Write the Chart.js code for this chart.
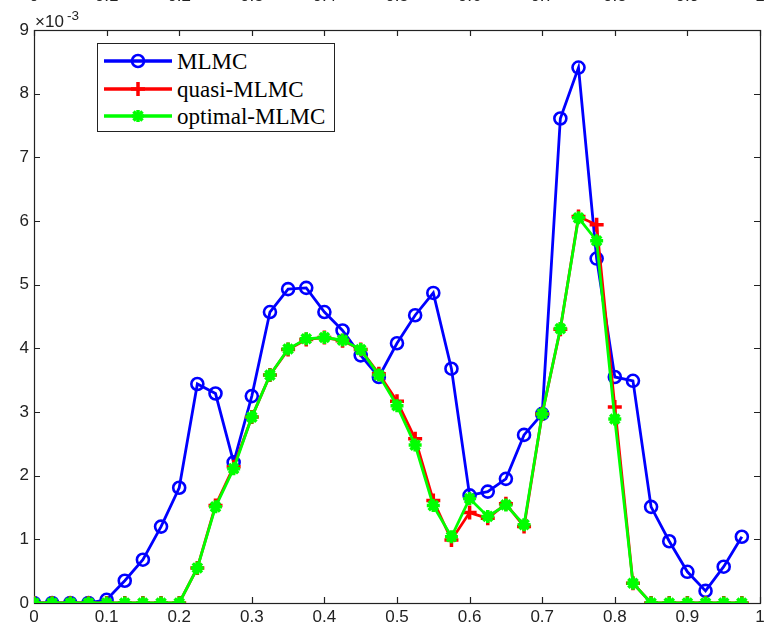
<!DOCTYPE html>
<html>
<head>
<meta charset="utf-8">
<script src="https://cdn.jsdelivr.net/npm/chart.js@4"></script>
<style>
  html, body { margin: 0; padding: 0; background: #fff; }
  #wrap { position: relative; width: 781px; height: 634px; overflow: hidden; background: #fff; }
  #cbox { position: absolute; left: 0; top: -20px; width: 781px; height: 654px; }
  .expo { position: absolute; font-family: "Liberation Sans", Arial, sans-serif; color: #222; white-space: nowrap; }
  #expoBase { left: 35px; top: 13px; font-size: 17px; line-height: 17px; }
  #expoSup { left: 67px; top: 9px; font-size: 13.5px; line-height: 13.5px; }
  #legend { position: absolute; left: 97px; top: 43px; width: 236px; height: 87px; border: 1px solid #222; background: #fff; }
  #legend .row { position: absolute; left: 0; height: 28px; width: 236px; }
  #legend svg { position: absolute; left: 0; top: 0; }
  #legend span { position: absolute; left: 79px; top: 1px; font-family: "Liberation Serif", "Times New Roman", serif; font-size: 23px; color: #000; line-height: 28px; }
</style>
</head>
<body>
<div id="wrap">
  <div id="cbox"><canvas id="c"></canvas></div>
  <div class="expo" id="expoBase">×10</div>
  <div class="expo" id="expoSup">-3</div>
  <div id="legend"></div>
</div>
<script>
// x positions of samples
const xValues = [0, 0.025, 0.05, 0.075, 0.1, 0.125, 0.15, 0.175, 0.2, 0.225,
  0.25, 0.275, 0.3, 0.325, 0.35, 0.375, 0.4, 0.425, 0.45, 0.475,
  0.5, 0.525, 0.55, 0.575, 0.6, 0.625, 0.65, 0.675, 0.7, 0.725,
  0.75, 0.775, 0.8, 0.825, 0.85, 0.875, 0.9, 0.925, 0.95, 0.975];

// series values, in units of 1e-3
const mlmc = [0, 0, 0, 0, 0.05, 0.35, 0.68, 1.20, 1.81, 3.44,
  3.29, 2.21, 3.25, 4.57, 4.93, 4.95, 4.57, 4.28, 3.89, 3.55,
  4.08, 4.52, 4.87, 3.68, 1.69, 1.75, 1.95, 2.64, 2.97, 7.61,
  8.41, 5.41, 3.55, 3.49, 1.51, 0.97, 0.49, 0.19, 0.57, 1.04];

const quasiMlmc = [0, 0, 0, 0, 0, 0, 0, 0, 0, 0.55,
  1.53, 2.14, 2.92, 3.58, 3.98, 4.14, 4.17, 4.12, 3.98, 3.60,
  3.17, 2.58, 1.61, 0.99, 1.42, 1.33, 1.56, 1.20, 2.97, 4.30,
  6.07, 5.94, 3.08, 0.31, 0, 0, 0, 0, 0, 0];

const optimalMlmc = [0, 0, 0, 0, 0, 0, 0, 0, 0, 0.55,
  1.51, 2.11, 2.92, 3.58, 3.99, 4.15, 4.17, 4.13, 3.98, 3.58,
  3.10, 2.48, 1.53, 1.04, 1.64, 1.36, 1.54, 1.23, 2.97, 4.31,
  6.05, 5.69, 2.89, 0.31, 0, 0, 0, 0, 0, 0];

const seriesNames = ['MLMC', 'quasi-MLMC', 'optimal-MLMC'];
const xTickValues = [0, 0.1, 0.2, 0.3, 0.4, 0.5, 0.6, 0.7, 0.8, 0.9, 1];
const yTickValues = [0, 1, 2, 3, 4, 5, 6, 7, 8, 9];

const BLUE = '#0000ff', RED = '#ff0000', GREEN = '#00ff00', AXIS = '#222222';

function pts(ys) { return xValues.map((x, i) => ({ x: x, y: ys[i] })); }

const tickFont = { family: '"Liberation Sans", Arial, sans-serif', size: 17 };
const fmt = v => String(Math.round(v * 10) / 10);

const framePlugin = {
  id: 'frame',
  beforeDatasetsDraw(chart) {
    const { ctx, chartArea: a } = chart;
    const xs = chart.scales.x, ys = chart.scales.y;
    const L = 6;
    ctx.save();
    ctx.strokeStyle = AXIS;
    ctx.lineWidth = 1.2;
    ctx.beginPath();
    xTickValues.forEach(v => {
      const px = Math.round(xs.getPixelForValue(v)) + 0.5;
      ctx.moveTo(px, a.bottom); ctx.lineTo(px, a.bottom - L);
      ctx.moveTo(px, a.top); ctx.lineTo(px, a.top + L);
    });
    yTickValues.forEach(v => {
      const py = Math.round(ys.getPixelForValue(v)) + 0.5;
      ctx.moveTo(a.left, py); ctx.lineTo(a.left + L, py);
      ctx.moveTo(a.right, py); ctx.lineTo(a.right - L, py);
    });
    ctx.stroke();
    ctx.strokeRect(Math.round(a.left) + 0.5, Math.round(a.top) + 0.5,
      Math.round(a.right - a.left), Math.round(a.bottom - a.top));
    ctx.restore();
  }
};

function fixX(height) {
  return s => { s.height = height; s.paddingLeft = 0; s.paddingRight = 0; };
}

new Chart(document.getElementById('c'), {
  type: 'line',
  data: {
    datasets: [
      { label: seriesNames[0], data: pts(mlmc), borderColor: BLUE, backgroundColor: 'rgba(0,0,0,0)',
        borderWidth: 2.8, pointStyle: 'circle', pointRadius: 6, pointBorderWidth: 2.6,
        pointBorderColor: BLUE, pointBackgroundColor: 'rgba(0,0,0,0)', order: 3, tension: 0 },
      { label: seriesNames[1], data: pts(quasiMlmc), borderColor: RED, backgroundColor: RED,
        borderWidth: 2.8, pointStyle: 'cross', pointRadius: 7, pointBorderWidth: 3.5,
        pointBorderColor: RED, order: 2, tension: 0 },
      { label: seriesNames[2], data: pts(optimalMlmc), borderColor: GREEN, backgroundColor: GREEN,
        borderWidth: 2.8, pointStyle: 'star', pointRadius: 6.5, pointBorderWidth: 3.5,
        pointBorderColor: GREEN, order: 1, tension: 0 }
    ]
  },
  options: {
    responsive: true,
    maintainAspectRatio: false,
    animation: false,
    events: [],
    layout: { padding: { left: 0, right: 21, top: 0, bottom: 0 } },
    plugins: { legend: { display: false }, tooltip: { enabled: false } },
    scales: {
      x: {
        type: 'linear', position: 'bottom', min: 0, max: 1,
        afterBuildTicks: s => { s.ticks = xTickValues.map(v => ({ value: v })); },
        afterFit: fixX(31),
        grid: { display: false, drawTicks: false }, border: { display: false },
        ticks: { font: tickFont, color: AXIS, padding: 4, maxRotation: 0, autoSkip: false, callback: fmt }
      },
      x2: {
        type: 'linear', position: 'top', min: 0, max: 1,
        afterBuildTicks: s => { s.ticks = xTickValues.map(v => ({ value: v })); },
        afterFit: fixX(50),
        grid: { display: false, drawTicks: false }, border: { display: false },
        ticks: { font: tickFont, color: AXIS, padding: 23, maxRotation: 0, autoSkip: false, callback: fmt }
      },
      y: {
        type: 'linear', position: 'left', min: 0, max: 9,
        afterBuildTicks: s => { s.ticks = yTickValues.map(v => ({ value: v })); },
        afterFit: s => { s.width = 34; s.paddingTop = 0; s.paddingBottom = 0; },
        grid: { display: false, drawTicks: false }, border: { display: false },
        ticks: { font: tickFont, color: AXIS, padding: 5, callback: v => String(v) }
      }
    }
  },
  plugins: [framePlugin]
});

// legend (HTML, real text)
const legendEl = document.getElementById('legend');
const rowsTop = [3, 31, 58];
const markers = [
  '<circle cx="40" cy="14" r="6" fill="none" stroke="' + BLUE + '" stroke-width="2.6"/>',
  '<line x1="33" y1="14" x2="47" y2="14" stroke="' + RED + '" stroke-width="3.5"/><line x1="40" y1="7" x2="40" y2="21" stroke="' + RED + '" stroke-width="3.5"/>',
  '<line x1="34" y1="14" x2="46" y2="14" stroke="' + GREEN + '" stroke-width="3.5"/><line x1="40" y1="8" x2="40" y2="20" stroke="' + GREEN + '" stroke-width="3.5"/>' +
  '<line x1="35.5" y1="9.5" x2="44.5" y2="18.5" stroke="' + GREEN + '" stroke-width="3.5"/><line x1="35.5" y1="18.5" x2="44.5" y2="9.5" stroke="' + GREEN + '" stroke-width="3.5"/>'
];
const colors = [BLUE, RED, GREEN];
seriesNames.forEach((name, i) => {
  const row = document.createElement('div');
  row.className = 'row';
  row.style.top = rowsTop[i] + 'px';
  row.innerHTML = '<svg width="80" height="28"><line x1="6" y1="14" x2="74" y2="14" stroke="' + colors[i] + '" stroke-width="3.5"/>' + markers[i] + '</svg><span>' + name + '</span>';
  legendEl.appendChild(row);
});
</script>
</body>
</html>
